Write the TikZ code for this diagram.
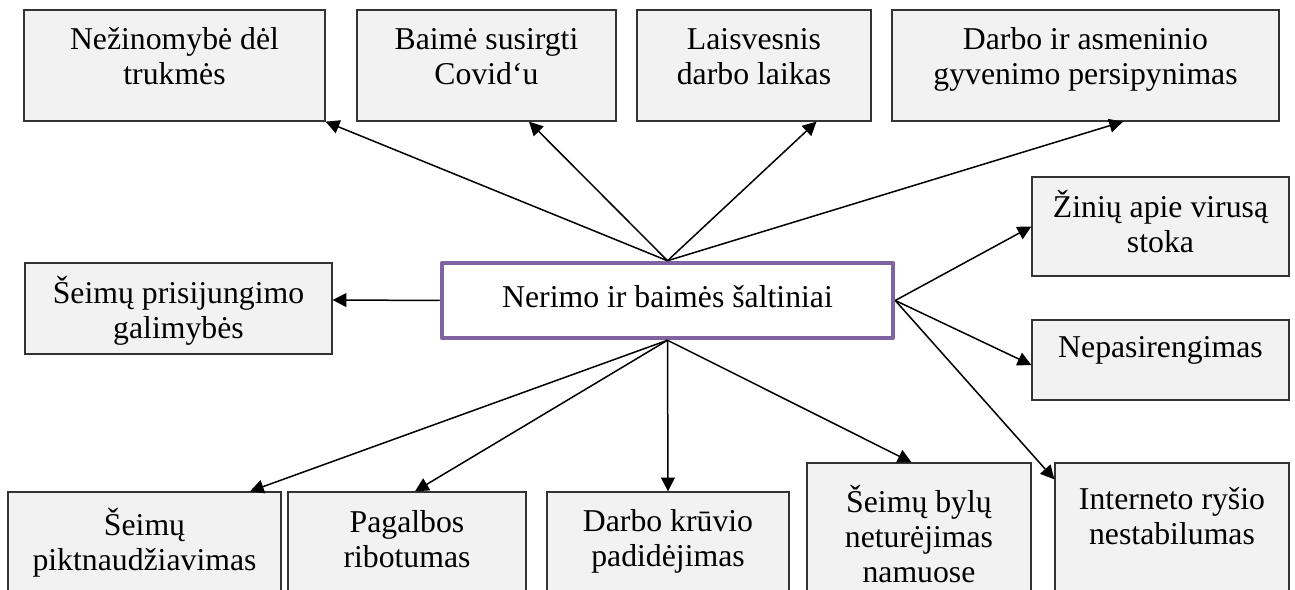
\documentclass[tikz,border=0pt]{standalone}
\usepackage{fontspec}
\setmainfont{Liberation Serif}
\usetikzlibrary{positioning,fit,arrows.meta}
\definecolor{boxgray}{HTML}{F2F2F2}
\definecolor{hubpurple}{HTML}{8064A2}

\begin{document}
\begin{tikzpicture}[x=0.4pt,y=-0.4pt,
  srcbox/.style={draw=black!80,fill=boxgray,line width=0.5pt,inner sep=0pt},
  txt/.style={inner sep=0pt,align=center,font=\fontsize{12.7}{14}\selectfont},
  link/.style={-{Triangle[length=5.5pt,width=5.5pt]},line width=0.6pt}]
\useasboundingbox (0,0) rectangle (1295,590);
\clip (0,0) rectangle (1295,590);

% central node
\node[draw=hubpurple,line width=1.8pt,line join=round,fill=white,minimum width=180.4pt,minimum height=30pt,
  text depth=3.5pt,font=\fontsize{12.7}{14}\selectfont] (c) at (667.5,300.5) {Nerimo ir baimės šaltiniai};

% top row
\node[srcbox,fit={(24,10) (325,121)}] (t1) {};
\node[srcbox,fit={(357,10) (616,121)}] (t2) {};
\node[srcbox,fit={(637,10) (871,121)}] (t3) {};
\node[srcbox,fit={(892,10) (1279,121)}] (t4) {};
\node[txt,below=6.2pt of t1.north] (t1txt) {\strut Nežinomybė dėl\\trukmės};
\node[txt,below=6.2pt of t2.north] (t2txt) {\strut Baimė susirgti\\Covid‘u};
\node[txt,below=6.2pt of t3.north] (t3txt) {\strut Laisvesnis\\darbo laikas};
\node[txt,below=6.2pt of t4.north] (t4txt) {\strut Darbo ir asmeninio\\gyvenimo persipynimas};

% left and right
\node[srcbox,fit={(25,263) (332,354)}] (l1) {};
\node[txt,below=5.4pt of l1.north] (l1txt) {\strut Šeimų prisijungimo\\galimybės};
\node[srcbox,fit={(1032,177) (1289,276)}] (r1) {};
\node[txt,below=5.4pt of r1.north] (r1txt) {\strut Žinių apie virusą\\stoka};
\node[srcbox,fit={(1032,320) (1289,400)}] (r2) {};
\node[txt,below=5.4pt of r2.north] (r2txt) {\strut Nepasirengimas};

% bottom row
\node[srcbox,fit={(8,492) (281,600)}] (b1) {};
\node[srcbox,fit={(288,492) (526,600)}] (b2) {};
\node[srcbox,fit={(547,492) (789,600)}] (b3) {};
\node[srcbox,fit={(807,463) (1031,600)}] (b4) {};
\node[srcbox,fit={(1055,463) (1289,600)}] (b5) {};
\node[txt,below=6.6pt of b1.north] (b1txt) {\strut Šeimų\\piktnaudžiavimas};
\node[txt,below=6.4pt of b2.north] (b2txt) {\strut Pagalbos\\ribotumas};
\node[txt,below=6.2pt of b3.north] (b3txt) {\strut Darbo krūvio\\padidėjimas};
\node[txt,below=9pt of b4.north] (b4txt) {\strut Šeimų bylų\\neturėjimas\\namuose};
\node[txt,below=9pt of b5.north] (b5txt) {\strut Interneto ryšio\\nestabilumas};

\draw[link] (c.north) -- (t1.south east);
\draw[link] (c.north) -- ([xshift=17pt]t2.south);
\draw[link] (c.north) -- ([xshift=25pt]t3.south);
\draw[link] (c.north) -- ([xshift=15pt]t4.south);
\draw[link] (c.west) -- ([yshift=3.4pt]l1.east);
\draw[link] (c.east) -- (r1.west);
\draw[link] (c.east) -- ([yshift=-2pt]r2.west);
\draw[link] (c.east) -- ([yshift=-6.8pt]b5.north west);
\draw[link] (c.south) -- ([xshift=42.2pt]b1.north);
\draw[link] (c.south) -- ([xshift=3.2pt]b2.north);
\draw[link] (c.south) -- (b3.north);
\draw[link] (c.south) -- ([xshift=-3pt]b4.north);
\end{tikzpicture}
\end{document}
